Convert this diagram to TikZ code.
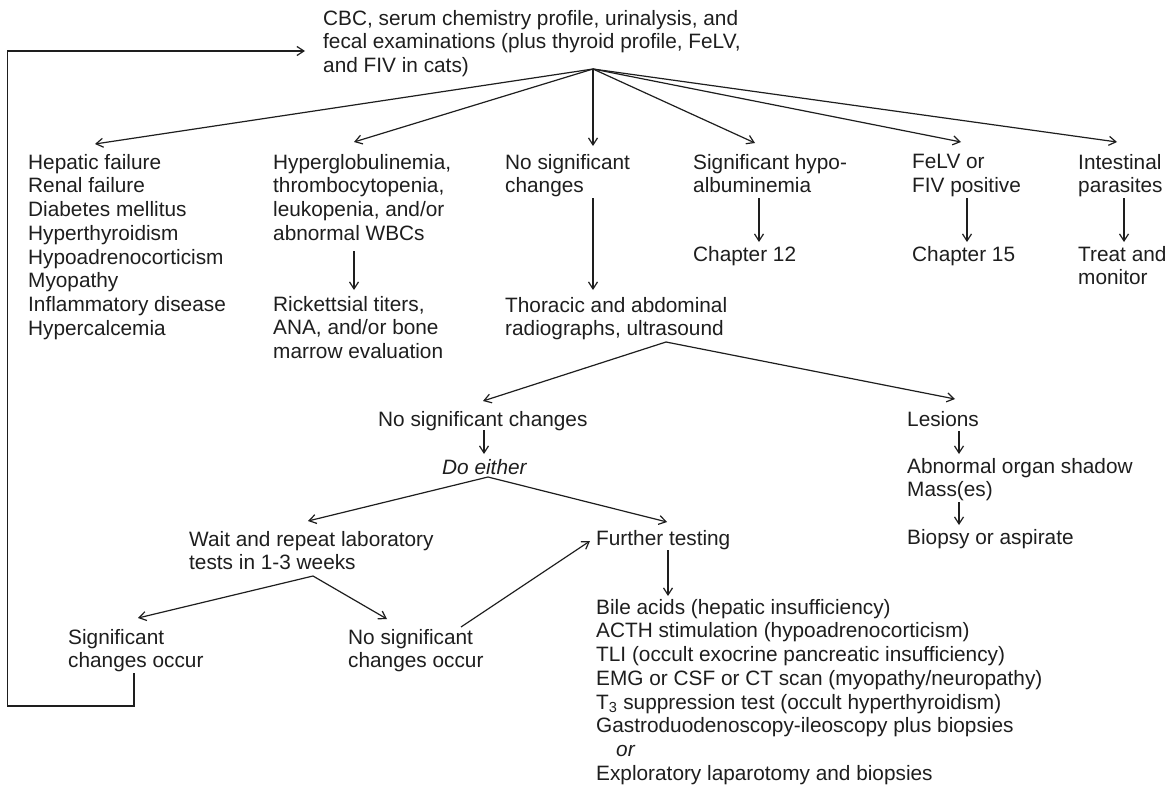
\documentclass[tikz,border=0pt]{standalone}
\usepackage{fontspec}
\setmainfont{Liberation Sans}
\usetikzlibrary{arrows.meta}
\definecolor{ink}{RGB}{30,30,30}
\begin{document}
\begin{tikzpicture}[x=1pt,y=-1pt,
  txt/.style={anchor=north west, inner sep=0pt, align=left, font=\fontsize{20.8}{23.7}\selectfont, text=ink},
  arr/.style={draw=ink, line width=1.2pt, -{Straight Barb[length=7pt,width=9pt]}},
  ln/.style={draw=ink, line width=1.2pt}]
\useasboundingbox[fill=white] (0,0) rectangle (1174,789);

% text nodes
\node[txt] (top) at (323,10) {CBC, serum chemistry profile, urinalysis, and\\fecal examinations (plus thyroid profile, FeLV,\\and FIV in cats)};
\node[txt] (hep) at (28,154) {Hepatic failure\\Renal failure\\Diabetes mellitus\\Hyperthyroidism\\Hypoadrenocorticism\\Myopathy\\Inflammatory disease\\Hypercalcemia};
\node[txt] (hyp) at (273,154) {Hyperglobulinemia,\\thrombocytopenia,\\leukopenia, and/or\\abnormal WBCs};
\node[txt] (nsc1) at (505,154) {No significant\\changes};
\node[txt] (hypo) at (693,154) {Significant hypo-\\albuminemia};
\node[txt] (felv) at (912,154) {FeLV or\\FIV positive};
\node[txt] (para) at (1078,154) {Intestinal\\parasites};
\node[txt] (ch12) at (693,246) {Chapter 12};
\node[txt] (ch15) at (912,246) {Chapter 15};
\node[txt] (treat) at (1078,246) {Treat and\\monitor};
\node[txt] (rick) at (273,296) {Rickettsial titers,\\ANA, and/or bone\\marrow evaluation};
\node[txt] (thor) at (505,297) {Thoracic and abdominal\\radiographs, ultrasound};
\node[txt] (nsc2) at (378,411) {No significant changes};
\node[txt] (les) at (907,411) {Lesions};
\node[txt] (doe) at (442,459) {\itshape Do either};
\node[txt] (abn) at (907,458) {Abnormal organ shadow\\Mass(es)};
\node[txt] (wait) at (189,531) {Wait and repeat laboratory\\tests in 1-3 weeks};
\node[txt] (fur) at (596,530) {Further testing};
\node[txt] (bio) at (907,529) {Biopsy or aspirate};
\node[txt] (sco) at (68,629) {Significant\\changes occur};
\node[txt] (nsco) at (348,629) {No significant\\changes occur};
\node[txt] (bile) at (596,599) {Bile acids (hepatic insufficiency)\\ACTH stimulation (hypoadrenocorticism)\\TLI (occult exocrine pancreatic insufficiency)\\EMG or CSF or CT scan (myopathy/neuropathy)\\T\textsubscript{3} suppression test (occult hyperthyroidism)\\Gastroduodenoscopy-ileoscopy plus biopsies\\\hspace*{20pt}\textit{or}\\Exploratory laparotomy and biopsies};

% connector coordinates
\coordinate (f0) at (593,69);
\coordinate (tHep) at (95,144);
\coordinate (tHyp) at (354,142);
\coordinate (tNsc) at (593,146);
\coordinate (tHypo) at (755,143);
\coordinate (tFelv) at (961,142);
\coordinate (tPara) at (1117,142);

\coordinate (sNsc1) at (593,198); \coordinate (eThor) at (593,290);
\coordinate (sHyp) at (354,251);  \coordinate (eRick) at (354,290);
\coordinate (sHypo) at (759,198); \coordinate (eCh12) at (759,242);
\coordinate (sFelv) at (967,198); \coordinate (eCh15) at (967,242);
\coordinate (sPara) at (1124,198); \coordinate (eTreat) at (1124,242);

\coordinate (fThor) at (666,342);
\coordinate (tNsc2) at (483,401);
\coordinate (tLes) at (955,399);
\coordinate (sNsc2) at (484,430); \coordinate (eDoe) at (484,454);
\coordinate (fDoe) at (488,477);
\coordinate (tWait) at (308,521);
\coordinate (tFur) at (667,522);
\coordinate (fWait) at (313,576);
\coordinate (tSco) at (138,618);
\coordinate (tNsco) at (387,619);
\coordinate (sNsco) at (461,627); \coordinate (eFur) at (590,541);
\coordinate (sFur) at (668,550); \coordinate (eBile) at (668,596);
\coordinate (sLes) at (959,431); \coordinate (eAbn) at (959,454);
\coordinate (sAbn) at (959,502); \coordinate (eBio) at (959,525);

\coordinate (sLoop) at (134,673);
\coordinate (cLoop) at (7.5,706);
\coordinate (eLoop) at (305,51);

% connectors
\foreach \t in {tHep,tHyp,tNsc,tHypo,tFelv,tPara} \draw[arr] (f0) -- (\t);
\draw[arr] (sNsc1) -- (eThor);
\draw[arr] (sHyp) -- (eRick);
\draw[arr] (sHypo) -- (eCh12);
\draw[arr] (sFelv) -- (eCh15);
\draw[arr] (sPara) -- (eTreat);
\draw[arr] (fThor) -- (tNsc2);
\draw[arr] (fThor) -- (tLes);
\draw[arr] (sNsc2) -- (eDoe);
\draw[arr] (fDoe) -- (tWait);
\draw[arr] (fDoe) -- (tFur);
\draw[arr] (fWait) -- (tSco);
\draw[arr] (fWait) -- (tNsco);
\draw[arr] (sNsco) -- (eFur);
\draw[arr] (sFur) -- (eBile);
\draw[arr] (sLes) -- (eAbn);
\draw[arr] (sAbn) -- (eBio);
\draw[arr] (sLoop) |- (cLoop) |- (eLoop);
\end{tikzpicture}
\end{document}
